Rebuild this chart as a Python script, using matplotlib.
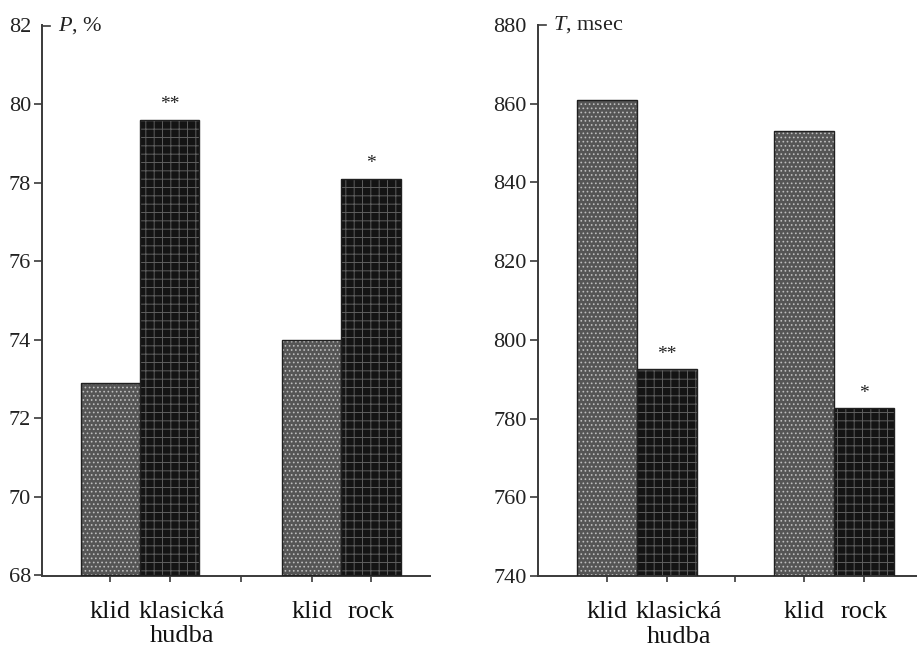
import matplotlib
matplotlib.use("Agg")
import matplotlib.pyplot as plt
import matplotlib.transforms as mtrans
import numpy as np

# ---- data ----
categories = ["klid", "klasická\nhudba", "klid", "rock"]
p_values = [72.9, 79.6, 74.0, 78.1]
t_values = [861, 792.5, 853, 782.6]
significance = ["", "**", "", "*"]
p_ticks = [68, 70, 72, 74, 76, 78, 80, 82]
t_ticks = [740, 760, 780, 800, 820, 840, 860, 880]
p_label = "$P$, %"
t_label = "$T$, msec"

plt.rcParams["font.family"] = ["Liberation Serif", "DejaVu Serif"]
plt.rcParams["mathtext.fontset"] = "custom"
plt.rcParams["mathtext.rm"] = "Liberation Serif"
plt.rcParams["mathtext.it"] = "Liberation Serif:italic"
plt.rcParams["hatch.linewidth"] = 0.7

fig = plt.figure(figsize=(9.17, 6.48), dpi=100)

axc = "#3a3a3a"


def panel(rect, values, ticks, label, gap, xmax):
    ax = fig.add_axes(rect)
    pos = np.array([1.0, 2.0, 1.0 + gap, 2.0 + gap])
    light = [0, 2]
    dark = [1, 3]
    base = ticks[0]
    vals = np.array(values)
    # light (rest) bars
    ax.bar(pos[light], vals[light] - base, bottom=base, width=1.0,
           color="#555555", edgecolor="#bdbdbd", hatch="....", linewidth=0, zorder=2)
    # dark (music) bars
    ax.bar(pos[dark], vals[dark] - base, bottom=base, width=1.0,
           color="#141414", edgecolor="#5e5e5e", hatch="++", linewidth=0, zorder=2)
    # outlines
    ax.bar(pos, vals - base, bottom=base, width=1.0, fill=False,
           edgecolor="#202020", linewidth=1.0, zorder=3)
    span = ticks[-1] - ticks[0]
    for x, v, s in zip(pos, values, significance):
        if s:
            ax.text(x, v + span * 0.012, s, ha="center", va="bottom",
                    fontsize=14, color="#222222")
    ax.set_ylim(ticks[0], ticks[-1])
    ax.set_xlim(-0.15, xmax)
    ax.set_yticks(ticks)
    ax.set_yticklabels([str(t) for t in ticks], fontsize=16, color="#222222")
    mid = (pos[1] + pos[2]) / 2
    ax.set_xticks([pos[0], pos[1], mid, pos[2], pos[3]])
    ax.set_xticklabels([categories[0], categories[1], "", categories[2], categories[3]],
                       fontsize=19, color="#111111", linespacing=1.15)
    ax.tick_params(axis="y", direction="out", length=6, width=1.2, color=axc, pad=2)
    ax.tick_params(axis="x", direction="out", length=4, width=1.2, color=axc, pad=14)
    ax.yaxis.get_major_ticks()[-1].tick1line.set_visible(False)
    for sp in ["top", "right"]:
        ax.spines[sp].set_visible(False)
    for sp in ["left", "bottom"]:
        ax.spines[sp].set_color(axc)
        ax.spines[sp].set_linewidth(1.4)
    ax.plot([0, 0.02], [1, 1], transform=ax.transAxes, color=axc, lw=1.2,
            clip_on=False)
    ax.text(0.04, 1.0, label, transform=ax.transAxes, ha="left", va="center",
            fontsize=16, color="#222222")
    lab = ax.get_xticklabels()[1]
    lab.set_transform(lab.get_transform() + mtrans.ScaledTranslation(12 / 100, 0, fig.dpi_scale_trans))
    return ax


panel([42 / 917, 1 - 575.5 / 648, 388 / 917, 550 / 648], p_values, p_ticks, p_label, 3.39, 6.38)
panel([538 / 917, 1 - 576 / 648, 379 / 917, 551 / 648], t_values, t_ticks, t_label, 3.28, 6.17)

fig.savefig("out.png", dpi=100)
